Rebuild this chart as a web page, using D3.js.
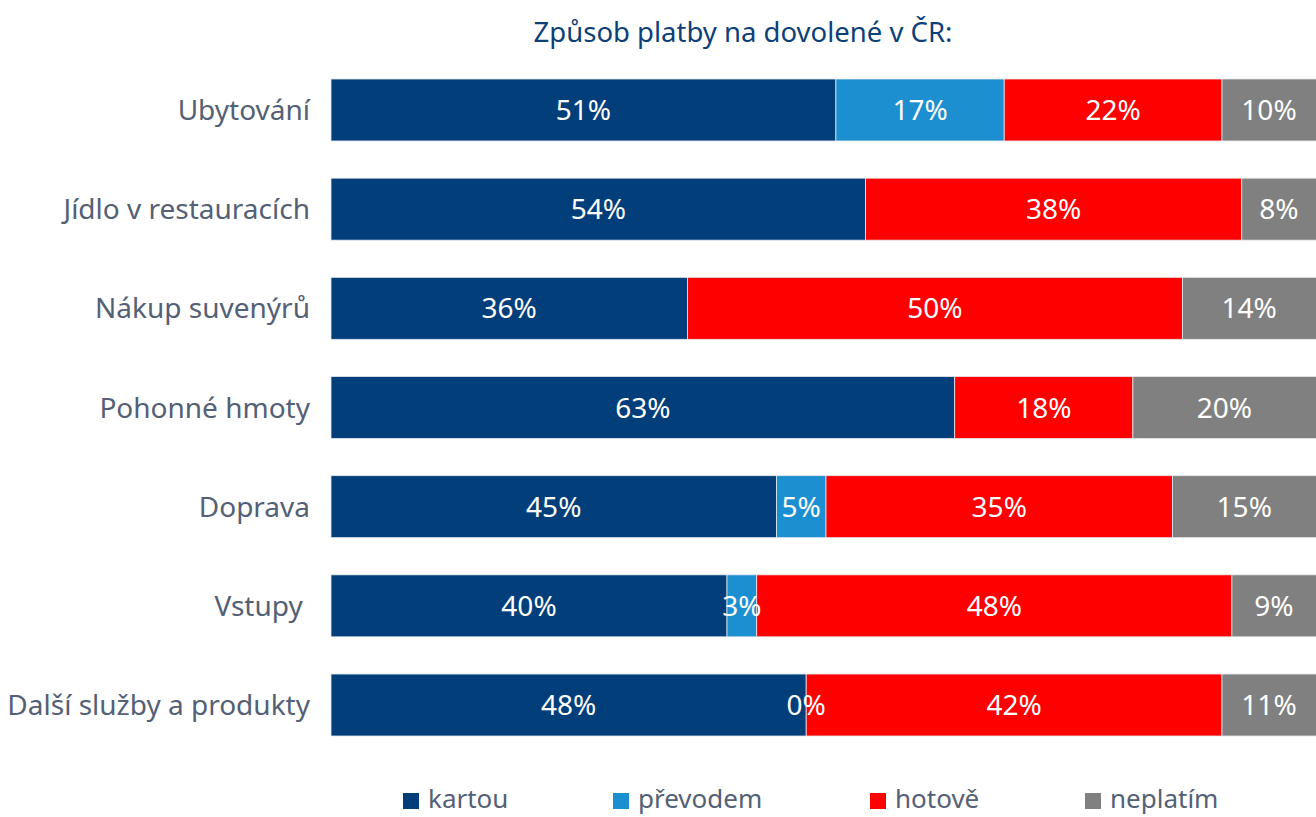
<!DOCTYPE html>
<html>
<head>
<meta charset="utf-8">
<script src="https://cdn.jsdelivr.net/npm/d3@7"></script>
<style>
  body { margin: 0; background: #fff; }
  text { font-family: "Noto Sans", "Open Sans", sans-serif; white-space: pre; }
</style>
</head>
<body>
<div id="chart"></div>
<script>
var categories = ["Ubytování", "Jídlo v restauracích", "Nákup suvenýrů", "Pohonné hmoty", "Doprava", "Vstupy ", "Další služby a produkty"];
var series = ["kartou", "převodem", "hotově", "neplatím"];
var kartou   = [51, 54, 36, 63, 45, 40, 48];
var prevodem = [17, null, null, null, 5, 3, 0];
var hotove   = [22, 38, 50, 18, 35, 48, 42];
var neplatim = [10, 8, 14, 20, 15, 9, 11];
var colors = ["#023e7a", "#1b8fd0", "#ff0000", "#808080"];

function init() {
    var w = 1316;
    var h = 817;
    var values = [kartou, prevodem, hotove, neplatim];

    var rows = categories.map(function(c, i) {
        var r = { cat: c };
        series.forEach(function(s, j) { r[s] = values[j][i]; });
        return r;
    });

    var stack = d3.stack()
        .keys(series)
        .value(function(d, key) { return d[key] || 0; });
    var layers = stack(rows);

    var x = d3.scaleLinear().domain([0, 100]).range([331, 1321]);
    var y = d3.scaleBand().domain(categories).range([60.4, 754.6]).paddingInner(0.375).paddingOuter(0.1875);

    var svg = d3.select("#chart").append("svg")
        .attr("width", w)
        .attr("height", h);

    svg.append("text")
        .attr("x", 743)
        .attr("y", 42)
        .attr("text-anchor", "middle")
        .attr("fill", "#0d3f78")
        .style("font-size", "27.5px")
        .text("Způsob platby na dovolené v ČR:");

    var g = svg.selectAll("g.layer")
        .data(layers)
        .enter()
        .append("g")
        .attr("class", "layer")
        .attr("fill", function(d, i) { return colors[i]; });

    g.selectAll("rect")
        .data(function(d) { return d; })
        .enter()
        .append("rect")
        .attr("x", function(d) { return x(d[0]); })
        .attr("y", function(d) { return y(d.data.cat); })
        .attr("width", function(d) { return x(d[1]) - x(d[0]); })
        .attr("height", y.bandwidth())
        .attr("stroke", "#e4e8ee")
        .attr("stroke-width", 0.8);

    // labels on top of every bar
    var labels = svg.selectAll("g.lab")
        .data(layers)
        .enter()
        .append("g")
        .attr("class", "lab");

    labels.selectAll("text")
        .data(function(d) {
            return d.filter(function(p) { return p.data[d.key] !== null; });
        })
        .enter()
        .append("text")
        .attr("x", function(d) { return (x(d[0]) + Math.min(x(d[1]), w)) / 2; })
        .attr("y", function(d) { return y(d.data.cat) + y.bandwidth() / 2; })
        .attr("dy", "0.36em")
        .attr("text-anchor", "middle")
        .attr("fill", "#fff")
        .style("font-size", "28px")
        .text(function(d) { return (d[1] - d[0]) + "%"; });

    svg.selectAll("text.cat")
        .data(categories)
        .enter()
        .append("text")
        .attr("class", "cat")
        .attr("x", 310)
        .attr("y", function(d) { return y(d) + y.bandwidth() / 2; })
        .attr("dy", "0.36em")
        .attr("text-anchor", "end")
        .attr("fill", "#536076")
        .style("font-size", "28px")
        .text(function(d) { return d; });

    var legendX = [403, 613, 870, 1085];
    var leg = svg.selectAll("g.leg")
        .data(series)
        .enter()
        .append("g")
        .attr("class", "leg")
        .attr("transform", function(d, i) { return "translate(" + legendX[i] + ",799)"; });
    leg.append("rect")
        .attr("x", 0)
        .attr("y", -6)
        .attr("width", 16)
        .attr("height", 16)
        .attr("fill", function(d, i) { return colors[i]; });
    leg.append("text")
        .attr("x", 25)
        .attr("dy", "0.33em")
        .attr("fill", "#536076")
        .style("font-size", "26px")
        .text(function(d) { return d; });
}
window.onload = init;
</script>
</body>
</html>
